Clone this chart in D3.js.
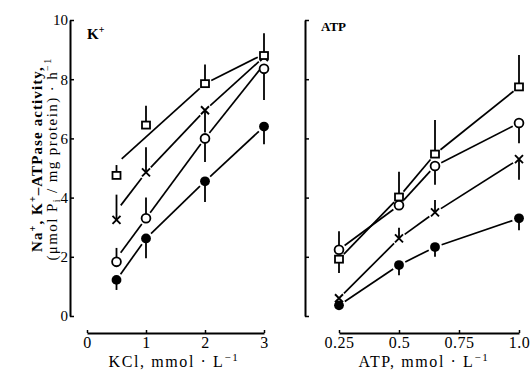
<!DOCTYPE html>
<html>
<head>
<meta charset="utf-8">
<script src="https://cdn.jsdelivr.net/npm/d3@7"></script>
<style>
  body { margin: 0; background: #fff; }
  svg text { font-family: "Liberation Serif", "Times New Roman", serif; fill: #000; }
</style>
</head>
<body>
<div id="chart"></div>
<script>
// KCl panel: x = KCl (mmol/L)
const kclX = [0.5, 1, 2, 3]
const kclTicks = [0, 1, 2, 3]
const kSquare = [4.75, 6.45, 7.85, 8.8]
const kSquareBar = [5.1, 7.1, 8.5, 9.55]
const kSquareLine = [5.15, null, 7.85, 8.85]
const kCross = [3.25, 4.85, 6.95, 8.75]
const kCrossBar = [4.1, 5.7, 6.2, 8.75]
const kCrossLine = [3.55, 4.85, 6.95, 8.75]
const kCircle = [1.83, 3.3, 6.0, 8.35]
const kCircleBar = [2.3, 4.0, 5.2, 7.3]
const kCircleLine = [1.95, 3.3, 6.0, 8.5]
const kFilled = [1.22, 2.62, 4.55, 6.4]
const kFilledBar = [0.88, 1.95, 3.85, 5.8]

// ATP panel: x = ATP (mmol/L)
const atpX = [0.25, 0.5, 0.65, 1.0]
const atpTicks = [0.25, 0.5, 0.75, 1.0]
const atpTickLabels = ["0.25", "0.5", "0.75", "1.0"]
const aSquare = [1.92, 4.02, 5.47, 7.74]
const aSquareBar = [1.45, 4.87, 6.62, 8.82]
const aCircle = [2.24, 3.74, 5.07, 6.52]
const aCircleBar = [2.86, 3.74, 4.43, 5.84]
const aCross = [0.6, 2.62, 3.5, 5.3]
const aCrossBar = [0.6, 2.98, 3.92, 4.6]
const aFilled = [0.36, 1.72, 2.33, 3.3]
const aFilledBar = [0.36, 1.38, 2.0, 2.9]

const yTicks = [0, 2, 4, 6, 8, 10]

const width = 532
const height = 376
const gap = 7

const svg = d3.select("#chart").append("svg")
    .attr("width", width)
    .attr("height", height)

const y = d3.scaleLinear().domain([0, 10]).range([316, 20])
const xK = d3.scaleLinear().domain([0, 3]).range([87, 264])
const xA = d3.scaleLinear().domain([0.25, 1]).range([339, 519])

const drawAxes = (xScale, xTickValues, xFormat, yAxisX, showYLabels) => {
    const yAxis = d3.axisLeft(y)
        .tickValues(yTicks)
        .tickSizeInner(-4)
        .tickSizeOuter(0)
        .tickPadding(2)
        .tickFormat(showYLabels ? d3.format("d") : () => "")
    const gy = svg.append("g")
        .attr("transform", `translate(${yAxisX}, 0)`)
        .call(yAxis)
    gy.select(".domain").attr("stroke-width", 2)
    gy.selectAll(".tick line").attr("stroke-width", 1.5)
    gy.selectAll("text").style("font-size", "15px").attr("font-family", null)

    const gx = svg.append("g")
        .attr("transform", "translate(0, 333)")
        .call(d3.axisBottom(xScale)
            .tickValues(xTickValues)
            .tickSizeInner(-3)
            .tickSizeOuter(0)
            .tickPadding(4)
            .tickFormat(xFormat))
    gx.select(".domain").attr("stroke-width", 2)
    gx.selectAll(".tick line").attr("stroke-width", 1.5)
    gx.selectAll("text").style("font-size", "16px").style("letter-spacing", "0.5px").attr("font-family", null)
}

// draws connecting segments, stopped short of each marker
const drawLine = (xScale, xs, ys) => {
    const pts = xs.map((x, i) => ys[i] == null ? null : [xScale(x), y(ys[i])])
    for (let i = 0; i < pts.length - 1; i++) {
        let j = i + 1
        while (j < pts.length && pts[j] == null) j++
        if (pts[i] == null || j >= pts.length) continue
        const [x1, y1] = pts[i], [x2, y2] = pts[j]
        const len = Math.hypot(x2 - x1, y2 - y1)
        const ux = (x2 - x1) / len, uy = (y2 - y1) / len
        svg.append("line")
            .attr("x1", x1 + ux * gap).attr("y1", y1 + uy * gap)
            .attr("x2", x2 - ux * gap).attr("y2", y2 - uy * gap)
            .attr("stroke", "#000").attr("stroke-width", 1.7)
    }
}

const drawBars = (xScale, xs, vals, bars) => {
    svg.append("g").selectAll("line")
        .data(xs.map((x, i) => [x, vals[i], bars[i]]).filter(d => d[1] !== d[2]))
        .join("line")
        .attr("x1", d => xScale(d[0])).attr("x2", d => xScale(d[0]))
        .attr("y1", d => y(d[1])).attr("y2", d => y(d[2]))
        .attr("stroke", "#000").attr("stroke-width", 1.8)
}

const drawMarkers = (xScale, xs, vals, shape) => {
    const g = svg.append("g")
    xs.forEach((x, i) => {
        const cx = xScale(x), cy = y(vals[i])
        if (shape === "square") {
            g.append("rect").attr("x", cx - 4).attr("y", cy - 3.5).attr("width", 8).attr("height", 7)
                .attr("fill", "#fff").attr("stroke", "#000").attr("stroke-width", 1.8)
        } else if (shape === "circle") {
            g.append("circle").attr("cx", cx).attr("cy", cy).attr("r", 4.4)
                .attr("fill", "#fff").attr("stroke", "#000").attr("stroke-width", 1.8)
        } else if (shape === "filled") {
            g.append("circle").attr("cx", cx).attr("cy", cy).attr("r", 4.9).attr("fill", "#000")
        } else {
            g.append("path").attr("d", `M${cx - 4},${cy - 4}L${cx + 4},${cy + 4}M${cx - 4},${cy + 4}L${cx + 4},${cy - 4}`)
                .attr("stroke", "#000").attr("stroke-width", 1.9)
        }
    })
}

drawAxes(xK, kclTicks, d3.format("d"), 70, true)
drawAxes(xA, atpTicks, (d, i) => atpTickLabels[i], 305, false)

// KCl panel
drawLine(xK, kclX, kSquareLine)
drawLine(xK, kclX, kCrossLine)
drawLine(xK, kclX, kCircleLine)
drawLine(xK, kclX, kFilled)
drawBars(xK, kclX, kSquare, kSquareBar)
drawBars(xK, kclX, kCross, kCrossBar)
drawBars(xK, kclX, kCircle, kCircleBar)
drawBars(xK, kclX, kFilled, kFilledBar)
drawMarkers(xK, kclX, kCross, "cross")
drawMarkers(xK, kclX, kSquare, "square")
drawMarkers(xK, kclX, kCircle, "circle")
drawMarkers(xK, kclX, kFilled, "filled")

// ATP panel
drawLine(xA, atpX, aSquare)
drawLine(xA, atpX, aCircle)
drawLine(xA, atpX, aCross)
drawLine(xA, atpX, aFilled)
drawBars(xA, atpX, aSquare, aSquareBar)
drawBars(xA, atpX, aCircle, aCircleBar)
drawBars(xA, atpX, aCross, aCrossBar)
drawBars(xA, atpX, aFilled, aFilledBar)
drawMarkers(xA, atpX, aSquare, "square")
drawMarkers(xA, atpX, aCircle, "circle")
drawMarkers(xA, atpX, aCross, "cross")
drawMarkers(xA, atpX, aFilled, "filled")

// panel labels
svg.append("text").attr("x", 87).attr("y", 39).style("font-size", "15px").style("font-weight", "bold")
    .html('K<tspan dy="-6" font-size="10px">+</tspan>')
svg.append("text").attr("x", 321).attr("y", 31).style("font-size", "13px").style("font-weight", "bold")
    .text("ATP")

// axis titles
svg.append("text").attr("x", 174).attr("y", 367).attr("text-anchor", "middle")
    .style("font-size", "16px").style("letter-spacing", "1.6px")
    .html('KCl, mmol · L<tspan dy="-6" font-size="11px">−1</tspan>')
svg.append("text").attr("x", 424).attr("y", 367).attr("text-anchor", "middle")
    .style("font-size", "16px").style("letter-spacing", "1.6px")
    .html('ATP, mmol · L<tspan dy="-6" font-size="11px">−1</tspan>')

const yTitle = svg.append("g").attr("transform", "translate(0, 159) rotate(-90)")
yTitle.append("text").attr("x", 0).attr("y", 42).attr("text-anchor", "middle")
    .style("font-size", "15px").style("font-weight", "bold").style("letter-spacing", "1.1px")
    .html('Na<tspan dy="-6" font-size="10px">+</tspan><tspan dy="6">, K</tspan><tspan dy="-6" font-size="10px">+</tspan><tspan dy="6">–ATPase activity,</tspan>')
yTitle.append("text").attr("x", 0).attr("y", 57).attr("text-anchor", "middle")
    .style("font-size", "15px").style("letter-spacing", "1.4px")
    .html('(μmol P<tspan dy="3" font-size="10px">i</tspan><tspan dy="-3"> / mg protein) · h</tspan><tspan dy="-6" font-size="10px">−1</tspan>')
</script>
</body>
</html>
